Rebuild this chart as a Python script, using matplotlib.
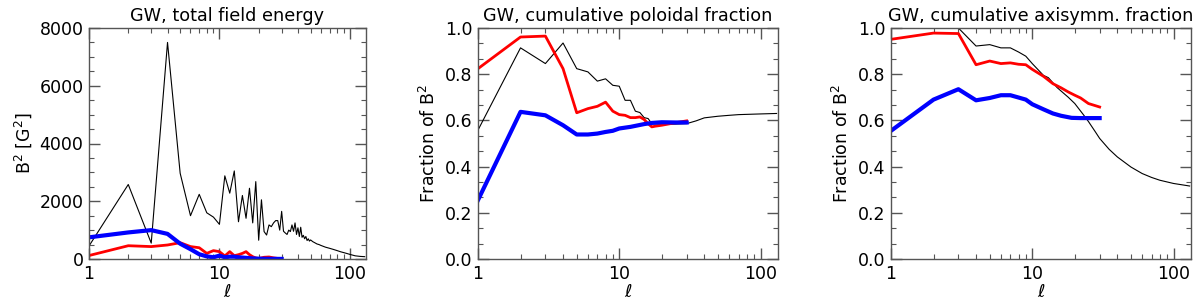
import numpy as np
import matplotlib
matplotlib.use("Agg")
import matplotlib.pyplot as plt
from matplotlib.ticker import MultipleLocator, LogLocator, FixedLocator, NullFormatter

# ---------------- data ----------------
# Panel 1: total field energy (B^2 [G^2]) vs l
l_e_black = [1, 2, 3, 4, 5, 6, 7, 8, 9, 10, 11, 12, 13, 14, 15, 16, 17, 18, 19, 20,
             21, 22, 23, 24, 25, 26, 27, 28, 29, 30, 31, 32, 33, 34, 35, 36, 37, 38, 39, 40,
             41, 42, 43, 44, 45, 46, 47, 48, 49, 50, 52, 54, 56, 58, 60, 65, 70, 75, 80,
             85, 90, 95, 100, 110, 120, 130]
e_black = [450, 2580, 550, 7500, 2970, 1500, 2240, 1600, 1450, 1200, 2880, 2280, 3050, 1290,
           2200, 1410, 2450, 1250, 2680, 650, 2050, 950, 830, 1180, 1120, 1250, 1330, 1330,
           1000, 1650, 960, 900, 850, 1000, 950, 1180, 960, 1250, 850, 1080,
           780, 1100, 750, 820, 700, 780, 640, 700, 620, 660, 600, 560, 520, 500, 470,
           410, 370, 330, 290, 250, 220, 190, 160, 110, 90, 80]
l_e_red = [1, 2, 3, 4, 5, 6, 7, 8, 9, 10, 11, 12, 13, 14, 15, 16, 17, 18, 19, 20,
           22, 24, 26, 28, 30]
e_red = [120, 460, 430, 485, 565, 430, 390, 195, 290, 255, 105, 255, 115, 150, 195, 255,
         150, 80, 35, 20, 60, 70, 40, 20, 10]
l_e_blue = [1, 2, 3, 4, 5, 6, 7, 8, 9, 10, 11, 12, 13, 14, 15, 16, 17, 18, 20, 25, 30]
e_blue = [750, 920, 1000, 870, 530, 340, 165, 90, 60, 115, 60, 80, 80, 60, 50, 40, 30,
          20, 10, 5, 3]

# Panel 2: cumulative poloidal fraction
l_p_black = [1, 2, 3, 4, 5, 6, 7, 8, 9, 10, 11, 12, 13, 14, 15, 16, 17, 18, 20, 25, 30,
             35, 40, 50, 60, 70, 100, 130]
p_black = [0.558, 0.914, 0.846, 0.935, 0.824, 0.810, 0.770, 0.780, 0.752, 0.748, 0.687,
           0.687, 0.640, 0.634, 0.612, 0.608, 0.586, 0.585, 0.583, 0.584, 0.586,
           0.598, 0.611, 0.618, 0.622, 0.625, 0.628, 0.630]
l_p_red = [1, 2, 3, 4, 5, 6, 7, 8, 9, 10, 11, 12, 13, 14, 15, 16, 17, 18, 20, 25, 30]
p_red = [0.824, 0.961, 0.965, 0.824, 0.633, 0.651, 0.661, 0.679, 0.640, 0.625, 0.622,
         0.612, 0.612, 0.615, 0.604, 0.586, 0.572, 0.575, 0.579, 0.590, 0.598]
l_p_blue = [1, 2, 3, 4, 5, 6, 7, 8, 9, 10, 12, 15, 17, 20, 25, 30]
p_blue = [0.255, 0.637, 0.622, 0.579, 0.539, 0.539, 0.543, 0.550, 0.555, 0.565, 0.572,
          0.584, 0.589, 0.592, 0.591, 0.591]

# Panel 3: cumulative axisymmetric fraction
l_a_black = [1, 2, 3, 4, 5, 6, 7, 8, 9, 10, 12, 13, 15, 18, 20, 23, 25, 28, 30, 35, 40,
             50, 60, 70, 80, 100, 130]
a_black = [1.0, 1.0, 1.0, 0.922, 0.928, 0.914, 0.914, 0.896, 0.878, 0.846, 0.795, 0.785,
           0.742, 0.700, 0.673, 0.625, 0.595, 0.550, 0.522, 0.475, 0.442, 0.398, 0.370,
           0.353, 0.341, 0.327, 0.316]
l_a_red = [1, 2, 3, 4, 5, 6, 7, 8, 9, 10, 12, 14, 16, 18, 20, 22, 25, 30]
a_red = [0.951, 0.978, 0.976, 0.841, 0.857, 0.846, 0.849, 0.843, 0.841, 0.821, 0.791,
         0.759, 0.741, 0.723, 0.709, 0.697, 0.673, 0.658]
l_a_blue = [1, 2, 3, 4, 5, 6, 7, 8, 9, 10, 12, 14, 16, 19, 22, 30]
a_blue = [0.555, 0.690, 0.735, 0.687, 0.697, 0.709, 0.709, 0.699, 0.690, 0.670, 0.648,
          0.630, 0.620, 0.611, 0.610, 0.610]

titles = ["GW, total field energy", "GW, cumulative poloidal fraction",
          "GW, cumulative axisymm. fraction"]
ylabels = [r"B$^2$ [G$^2$]", r"Fraction of B$^2$", r"Fraction of B$^2$"]

# ---------------- figure ----------------
plt.rcParams['font.family'] = ['DejaVu Sans']
fig = plt.figure(figsize=(12, 3), dpi=100)
W, H = 1200.0, 300.0
rects = [(89, 277), (478, 300), (891, 300)]
top, bot = 28, 259

panels = [
    ((l_e_black, e_black), (l_e_red, e_red), (l_e_blue, e_blue)),
    ((l_p_black, p_black), (l_p_red, p_red), (l_p_blue, p_blue)),
    ((l_a_black, a_black), (l_a_red, a_red), (l_a_blue, a_blue)),
]

for i, ((x0, w), (blk, red, blu)) in enumerate(zip(rects, panels)):
    ax = fig.add_axes([x0 / W, (H - bot) / H, w / W, (bot - top) / H])
    ax.plot(blk[0], blk[1], color='black', lw=0.8)
    ax.plot(red[0], red[1], color='#ff0000', lw=2.0)
    ax.plot(blu[0], blu[1], color='#0000ff', lw=3.0)
    ax.set_xscale('log')
    ax.set_xlim(1, 133)
    if i == 0:
        ax.set_ylim(0, 8000)
        ax.yaxis.set_major_locator(MultipleLocator(2000))
        ax.yaxis.set_minor_locator(MultipleLocator(500))
    else:
        ax.set_ylim(0, 1.0)
        ax.yaxis.set_major_locator(FixedLocator([0, 0.2, 0.4, 0.6, 0.8, 1.0]))
        ax.set_yticklabels(["0.0", "0.2", "0.4", "0.6", "0.8", "1.0"])
        ax.yaxis.set_minor_locator(MultipleLocator(0.2 / 3))
    ax.xaxis.set_major_locator(FixedLocator([1, 10, 100]))
    ax.set_xticklabels(["1", "10", "100"])
    ax.xaxis.set_minor_locator(LogLocator(base=10, subs=np.arange(2, 10), numticks=20))
    ax.xaxis.set_minor_formatter(NullFormatter())
    ax.tick_params(which='both', direction='in', top=True, right=True,
                   labelsize=12.5, color='#555555')
    ax.tick_params(which='major', length=8, width=1, pad=4)
    ax.tick_params(which='minor', length=3.8, width=0.8)
    for s in ax.spines.values():
        s.set_color('#555555')
        s.set_linewidth(1.0)
    ax.set_title(titles[i], fontsize=12.7, pad=5)
    ax.set_ylabel(ylabels[i], fontsize=12.5)
    ax.set_xlabel(r"$\ell$", fontsize=13, labelpad=0)

fig.savefig("out.png", dpi=100)
